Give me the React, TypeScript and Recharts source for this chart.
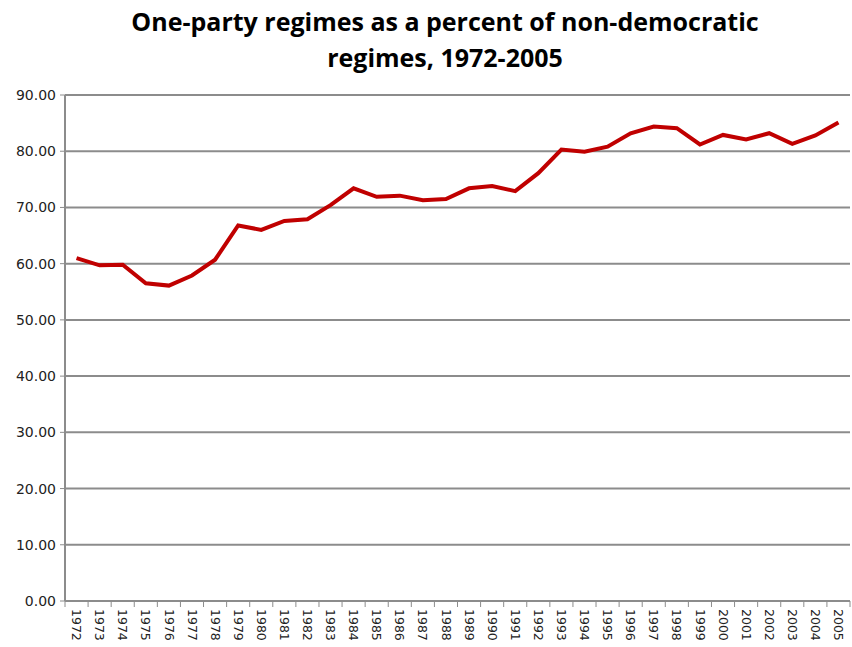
import React from "react";
import { CartesianGrid, Line, LineChart, XAxis, YAxis } from "recharts";

const YEARS = [
  "1972", "1973", "1974", "1975", "1976", "1977", "1978", "1979", "1980", "1981", "1982", "1983",
  "1984", "1985", "1986", "1987", "1988", "1989", "1990", "1991", "1992", "1993", "1994", "1995",
  "1996", "1997", "1998", "1999", "2000", "2001", "2002", "2003", "2004", "2005",
];

const ONE_PARTY_PCT = [
  61.0, 59.7, 59.8, 56.5, 56.1, 57.9, 60.7, 66.8, 66.0, 67.6, 67.9, 70.4,
  73.4, 71.9, 72.1, 71.3, 71.5, 73.4, 73.8, 72.9, 76.1, 80.3, 79.9, 80.8,
  83.2, 84.4, 84.1, 81.2, 82.9, 82.1, 83.2, 81.3, 82.8, 85.1,
];

const Y_TICKS = [0, 10, 20, 30, 40, 50, 60, 70, 80, 90];

const data = YEARS.map((year, i) => ({ year, value: ONE_PARTY_PCT[i] }));

const CHART_W = 852;
const PLOT_LEFT = 65;
const PLOT_RIGHT = 2;
const HALF_BAND = (CHART_W - PLOT_LEFT - PLOT_RIGHT) / YEARS.length / 2;

// Excel-style category axis: tick marks between categories, labels centred
function YearTick({ x, y, payload, index }: any) {
  const isLast = index === YEARS.length - 1;
  return (
    <g>
      <line x1={x - HALF_BAND} x2={x - HALF_BAND} y1={y - 6} y2={y} stroke="#8c8c8c" />
      {isLast && <line x1={x + HALF_BAND} x2={x + HALF_BAND} y1={y - 6} y2={y} stroke="#8c8c8c" />}
      <text
        transform={`translate(${x},${y + 2}) rotate(90)`}
        dy="0.35em"
        textAnchor="start"
        fontSize={12.5}
        fontFamily="DejaVu Sans"
        fill="#222"
      >
        {payload.value}
      </text>
    </g>
  );
}

export default function App() {
  return (
    <div style={{ position: "absolute", left: 0, top: 0, width: CHART_W, height: 647, background: "#fff" }}>
      <div
        style={{
          position: "absolute",
          left: 40,
          width: 810,
          top: 3,
          textAlign: "center",
          fontFamily: "'Open Sans'",
          fontWeight: 700,
          fontSize: 25,
          lineHeight: "36px",
          color: "#000",
        }}
      >
        One-party regimes as a percent of non-democratic
        <br />
        regimes, 1972-2005
      </div>
      <LineChart
        width={CHART_W}
        height={647}
        data={data}
        margin={{ top: 95, right: PLOT_RIGHT, bottom: 0, left: 0 }}
      >
        <CartesianGrid vertical={false} stroke="#8c8c8c" strokeWidth={2} />
        <XAxis
          dataKey="year"
          interval={0}
          height={46}
          padding={{ left: HALF_BAND, right: HALF_BAND }}
          tick={<YearTick />}
          tickSize={4}
          tickLine={false}
          axisLine={{ stroke: "#8c8c8c", strokeWidth: 2 }}
        />
        <YAxis
          domain={[0, 90]}
          ticks={Y_TICKS}
          width={PLOT_LEFT}
          tickFormatter={(v: number) => v.toFixed(2)}
          tick={{ fontSize: 14, fontFamily: "DejaVu Sans", fill: "#222" }}
          tickSize={5}
          tickMargin={4}
          axisLine={{ stroke: "#8c8c8c", strokeWidth: 2 }}
          tickLine={{ stroke: "#8c8c8c" }}
        />
        <Line
          type="linear"
          dataKey="value"
          stroke="#c00000"
          strokeWidth={4}
          dot={false}
          isAnimationActive={false}
        />
      </LineChart>
    </div>
  );
}
